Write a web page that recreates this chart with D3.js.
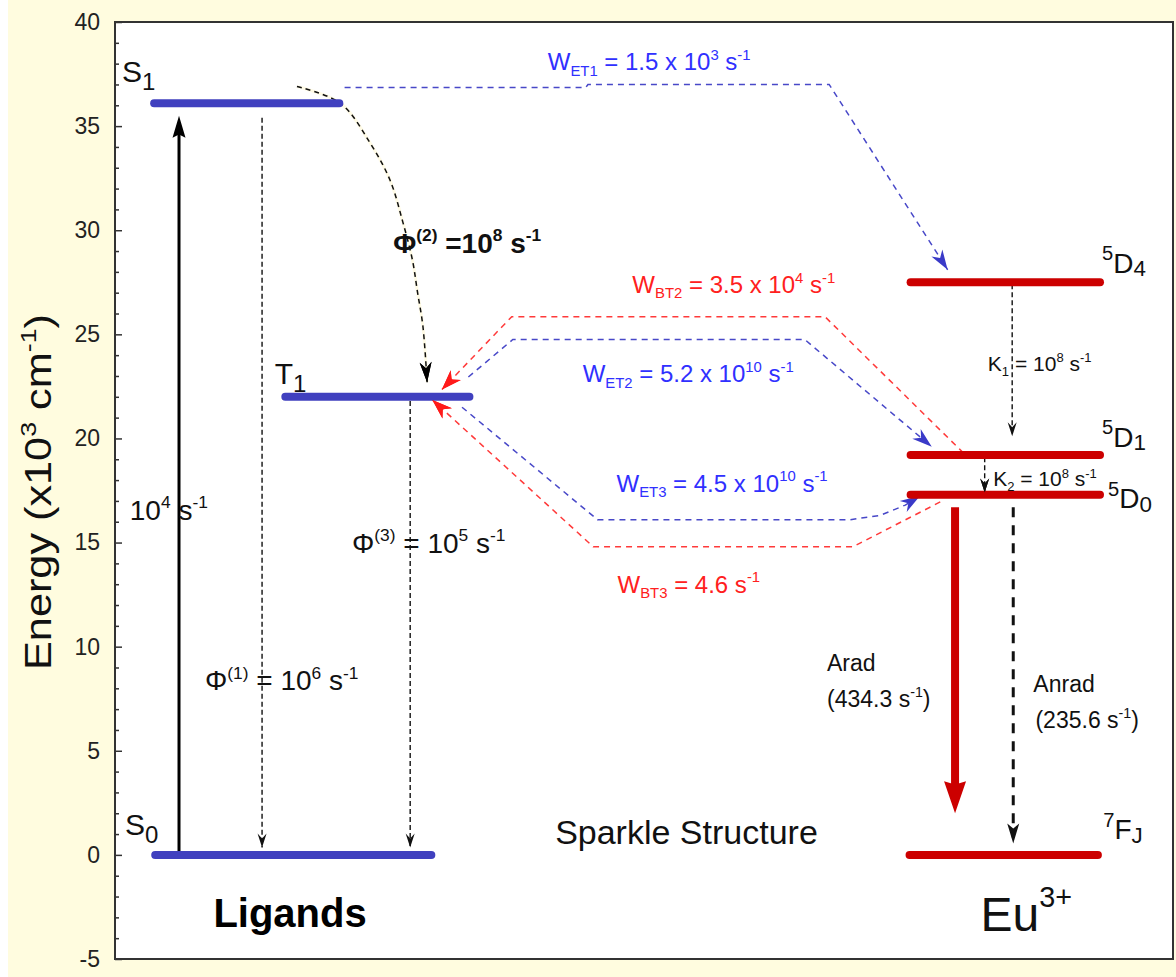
<!DOCTYPE html>
<html>
<head>
<meta charset="utf-8">
<script src="https://cdn.jsdelivr.net/npm/d3@7"></script>
<style>
  html, body { margin: 0; padding: 0; background: #ffffff; }
  svg { display: block; }
  text { font-family: "Liberation Sans", Arial, sans-serif; white-space: pre; }
</style>
</head>
<body>
<svg id="chart" width="1176" height="977"></svg>
<script>
// Energy levels (x10^3 cm^-1) of the ligand states and the Eu3+ ion
const levelNames    = ["S1", "T1", "S0", "5D4", "5D1", "5D0", "7FJ"];
const levelLabels   = ["S_{1}", "T_{1}", "S_{0}", "^{5}D_{4}", "^{5}D_{1}", "^{5}D_{0}", "^{7}F_{J}"];
const levelEnergies = [36.1, 22.0, 0.0, 27.5, 19.2, 17.3, 0.0];
const levelGroups   = ["ligand", "ligand", "ligand", "eu", "eu", "eu", "eu"];

// Axis ticks
const yMajorTicks = [-5, 0, 5, 10, 15, 20, 25, 30, 35, 40];
const yMinorTicks = [-4, -3, -2, -1, 1, 2, 3, 4, 6, 7, 8, 9, 11, 12, 13, 14, 16, 17, 18, 19,
                     21, 22, 23, 24, 26, 27, 28, 29, 31, 32, 33, 34, 36, 37, 38, 39];

// Rate labels for each transfer / decay process
const rateTexts = [
  "W_{ET1} = 1.5 x 10^{3} s^{-1}",
  "W_{BT2} = 3.5 x 10^{4} s^{-1}",
  "W_{ET2} = 5.2 x 10^{10} s^{-1}",
  "W_{ET3} = 4.5 x 10^{10} s^{-1}",
  "W_{BT3} = 4.6 s^{-1}",
  "Φ^{(2)} =10^{8} s^{-1}",
  "Φ^{(3)} = 10^{5} s^{-1}",
  "Φ^{(1)} = 10^{6} s^{-1}",
  "10^{4} s^{-1}",
  "K_{1} = 10^{8} s^{-1}",
  "K_{2} = 10^{8} s^{-1}",
  "Arad", "(434.3 s^{-1})",
  "Anrad", "(235.6 s^{-1})"
];
const groupTitles = ["Ligands", "Sparkle Structure", "Eu^{3+}"];
const yTitle = "Energy (x10^{3} cm^{-1})";

// ---------------------------------------------------------------------------
const W = 1176, H = 977;
const plot = { left: 115, top: 22, right: 1173, bottom: 959 };

const svg = d3.select("#chart");
const x = d3.scaleLinear().domain([0, 100]).range([plot.left, plot.right]);
const y = d3.scaleLinear().domain([-5, 40]).range([plot.bottom, plot.top]);

// page background
svg.append("rect").attr("width", W).attr("height", H).attr("fill", "#ffffff");
svg.append("rect").attr("x", 8).attr("width", W - 8).attr("height", H).attr("fill", "#fffcdf");
svg.append("rect")
  .attr("x", plot.left).attr("y", plot.top)
  .attr("width", plot.right - plot.left).attr("height", plot.bottom - plot.top)
  .attr("fill", "#ffffff");

// text with ^{} superscripts and _{} subscripts
function rich(g, str, o) {
  const size = o.size || 24;
  const supScale = o.supScale || 0.62, supShift = o.supShift || 0.42;
  const subScale = o.subScale || 0.62, subShift = o.subShift || 0.24;
  const parts = str.split(/(\^\{[^}]*\}|_\{[^}]*\})/).filter(s => s.length);
  const t = g.append("text")
    .attr("x", o.x).attr("y", o.y)
    .attr("font-size", size)
    .attr("font-weight", o.weight || "normal")
    .attr("fill", o.fill || "#111")
    .attr("text-anchor", o.anchor || "start");
  if (o.transform) t.attr("transform", o.transform);
  if (o.textLength) t.attr("textLength", o.textLength).attr("lengthAdjust", "spacingAndGlyphs");
  let cur = 0;
  parts.forEach(p => {
    let target = 0, fs = size, txt = p;
    if (p.startsWith("^{")) { target = -size * supShift; fs = size * supScale; txt = p.slice(2, -1); }
    else if (p.startsWith("_{")) { target = size * subShift; fs = size * subScale; txt = p.slice(2, -1); }
    t.append("tspan").attr("dy", target - cur).attr("font-size", fs).text(txt);
    cur = target;
  });
  return t;
}

// ---------------- axis ----------------
const axisG = svg.append("g").attr("transform", `translate(${plot.left},0)`);
axisG.call(d3.axisLeft(y).tickValues(yMinorTicks).tickSize(-4).tickFormat(""));
axisG.call(g => g.select(".domain").remove());
const majorG = svg.append("g").attr("transform", `translate(${plot.left},0)`);
majorG.call(d3.axisLeft(y).tickValues(yMajorTicks).tickSizeInner(-7).tickSizeOuter(0)
  .tickPadding(15).tickFormat(d => String(d)));
majorG.select(".domain").remove();
[axisG, majorG].forEach(g => g.selectAll("line").attr("stroke", "#333").attr("stroke-width", 1.5));
majorG.selectAll("text")
  .attr("font-size", 23).attr("fill", "#222")
  .attr("font-family", "'Liberation Sans', Arial, sans-serif");

rich(svg, yTitle, { x: 0, y: 0, size: 36, anchor: "middle", fill: "#111", textLength: 356,
  transform: `translate(51,492) rotate(-90)` });

// ---------------- energy level bars ----------------
// horizontal extent of each level, in x-scale units
const levelSpan = {
  S1: [3.7, 21.2], T1: [16.1, 33.5], S0: [3.8, 29.9],
  "5D4": [75.2, 93.1], "5D1": [75.2, 93.1], "5D0": [75.2, 93.1], "7FJ": [75.1, 92.9]
};
const levelColor = { ligand: "#4040bf", eu: "#cc0000" };

const levels = levelNames.map((n, i) => ({
  name: n, label: levelLabels[i], E: levelEnergies[i], group: levelGroups[i]
}));

// ---------------- transitions ----------------
const arrowStyle = {
  solid: { stroke: "#000", width: 3, dash: null, len: 22, wid: 13, notch: 0.15, fill: "#000", trim: 14 },
  thin:  { stroke: "#111", width: 1.4, dash: "5,3", len: 14, wid: 9, notch: 0.35, fill: "#111", trim: 0 },
  curve: { stroke: "#111", width: 1.5, dash: "5,4", len: 20, wid: 12, notch: 0.3, fill: "#000", trim: 0 },
  blue:  { stroke: "#4848c8", width: 1.5, dash: "6,5", len: 20, wid: 13, notch: 0.3, fill: "#3a3ac8", trim: 0 },
  red:   { stroke: "#ff3a3a", width: 1.5, dash: "6,5", len: 20, wid: 14, notch: 0.3, fill: "#ff1a1a", trim: 0 },
  arad:  { stroke: "#cc0000", width: 8, dash: null, len: 32, wid: 22, notch: 0.1, fill: "#cc0000", trim: 22 },
  anrad: { stroke: "#111", width: 3, dash: "10,8", len: 20, wid: 12, notch: 0.25, fill: "#111", trim: 6 }
};

// each path: points in (x-units, energy); the last point is the arrow tip
const transitions = [
  { kind: "solid", pts: [[6.05, 0.0], [6.05, 35.5]] },
  { kind: "thin",  pts: [[13.9, 35.4], [13.9, 0.35]] },
  { kind: "thin",  pts: [[27.9, 21.8], [27.9, 0.35]] },
  { kind: "curve", smooth: true,
    pts: [[17.2, 36.9], [21.3, 36.1], [24.1, 34.2], [26.0, 32.4], [27.2, 30.4],
          [28.1, 28.6], [28.6, 27.0], [29.1, 25.4], [29.5, 22.7]] },
  { kind: "blue", pts: [[21.7, 36.85], [44.5, 36.85], [44.7, 37.0], [67.5, 37.0], [78.7, 28.1]] },
  { kind: "red",  pts: [[80.2, 19.3], [67.1, 25.85], [37.5, 25.85], [30.9, 22.35]] },
  { kind: "blue", pts: [[33.4, 22.95], [37.6, 24.75], [65.2, 24.75], [77.2, 19.6]] },
  { kind: "blue", pts: [[32.8, 21.5], [45.6, 16.1], [69.5, 16.1], [72.3, 16.3], [74.7, 16.8], [76.1, 17.25]] },
  { kind: "red",  pts: [[78.0, 16.95], [69.75, 14.8], [45.2, 14.8], [30.0, 21.85]] },
  { kind: "thin", pts: [[84.8, 27.4], [84.8, 20.1]] },
  { kind: "thin", pts: [[82.2, 19.1], [82.2, 17.4]] },
  { kind: "arad",  pts: [[79.4, 16.7], [79.4, 2.0]] },
  { kind: "anrad", pts: [[84.9, 16.7], [84.9, 0.55]] }
];

function head(g, tip, from, s) {
  const a = Math.atan2(tip[1] - from[1], tip[0] - from[0]) * 180 / Math.PI;
  g.append("path")
    .attr("d", `M0,0 L${-s.len},${-s.wid / 2} L${-s.len * (1 - s.notch)},0 L${-s.len},${s.wid / 2} Z`)
    .attr("transform", `translate(${tip[0]},${tip[1]}) rotate(${a})`)
    .attr("fill", s.fill);
}

const arrowsG = svg.append("g");
transitions.forEach(tr => {
  const s = arrowStyle[tr.kind];
  const px = tr.pts.map(p => [x(p[0]), y(p[1])]);
  const tip = px[px.length - 1], prev = px[px.length - 2];
  const d = Math.hypot(tip[0] - prev[0], tip[1] - prev[1]);
  const linePts = px.slice();
  if (s.trim) {
    linePts[linePts.length - 1] = [tip[0] - (tip[0] - prev[0]) / d * s.trim,
                                   tip[1] - (tip[1] - prev[1]) / d * s.trim];
  }
  const gen = d3.line().curve(tr.smooth ? d3.curveCatmullRom : d3.curveLinear);
  if (tr.kind === "curve") {
    arrowsG.append("path").attr("d", gen(linePts)).attr("fill", "none")
      .attr("stroke", "#fffbe6").attr("stroke-width", 3);
  }
  const path = arrowsG.append("path").attr("d", gen(linePts))
    .attr("fill", "none").attr("stroke", s.stroke).attr("stroke-width", s.width);
  if (s.dash) path.attr("stroke-dasharray", s.dash);
  head(arrowsG, tip, prev, s);
});

// level bars drawn on top of the transfer lines
const barsG = svg.append("g");
barsG.selectAll("line").data(levels).join("line")
  .attr("x1", d => x(levelSpan[d.name][0]))
  .attr("x2", d => x(levelSpan[d.name][1]))
  .attr("y1", d => y(d.E)).attr("y2", d => y(d.E))
  .attr("stroke", d => levelColor[d.group])
  .attr("stroke-width", 8).attr("stroke-linecap", "round");

// arrow tips that sit over the bars are drawn again above them
const tipsG = svg.append("g");
transitions.forEach((tr, i) => {
  if ([3, 5, 8, 10].includes(i)) {
    const s = arrowStyle[tr.kind];
    const px = tr.pts.map(p => [x(p[0]), y(p[1])]);
    head(tipsG, px[px.length - 1], px[px.length - 2], s);
  }
});

// ---------------- labels ----------------
const labelG = svg.append("g");
const levelLabelPos = {
  S1: [0.66, 37.1], T1: [15.1, 22.6], S0: [0.95, 0.95],
  "5D4": [93.3, 27.95], "5D1": [93.3, 19.6], "5D0": [93.85, 16.65], "7FJ": [93.4, 0.75]
};
levels.forEach(l => {
  const p = levelLabelPos[l.name];
  const ligand = l.group === "ligand";
  rich(labelG, l.label, {
    x: x(p[0]), y: y(p[1]), size: ligand ? 30 : 28, fill: "#111",
    subScale: 0.8, subShift: ligand ? 0.27 : 0.12, supScale: 0.72, supShift: 0.45
  });
});

// rate label placement (x-units, energy) and style
const rateLayout = [
  { at: [40.9, 37.7], size: 24, fill: "#3030ff" },
  { at: [48.9, 27.0], size: 24, fill: "#ff2020" },
  { at: [44.2, 22.7], size: 24, fill: "#3030ff" },
  { at: [47.4, 17.45], size: 24, fill: "#3030ff" },
  { at: [47.5, 12.6], size: 24, fill: "#ff2020" },
  { at: [26.3, 28.9], size: 28, fill: "#111", weight: "bold" },
  { at: [22.4, 14.5], size: 28, fill: "#111" },
  { at: [8.5, 7.9], size: 28, fill: "#111" },
  { at: [1.4, 16.1], size: 28, fill: "#111" },
  { at: [82.5, 23.25], size: 21, fill: "#111" },
  { at: [83.0, 17.7], size: 21, fill: "#111" },
  { at: [67.3, 8.85], size: 23, fill: "#111" },
  { at: [67.3, 7.1], size: 23, fill: "#111" },
  { at: [86.8, 7.8], size: 23, fill: "#111" },
  { at: [87.0, 6.1], size: 23, fill: "#111" }
];
rateTexts.forEach((t, i) => {
  const L = rateLayout[i];
  rich(labelG, t, { x: x(L.at[0]), y: y(L.at[1]), size: L.size, fill: L.fill, weight: L.weight });
});

// group titles
rich(labelG, groupTitles[0], { x: x(9.3), y: y(-3.45), size: 40, weight: "bold", fill: "#000" });
rich(labelG, groupTitles[1], { x: x(41.6), y: y(0.5), size: 34, fill: "#111" });
rich(labelG, groupTitles[2], { x: x(81.8), y: y(-3.65), size: 48, fill: "#111", supScale: 0.6, supShift: 0.5 });

// frame
svg.append("rect")
  .attr("x", plot.left).attr("y", plot.top)
  .attr("width", plot.right - plot.left).attr("height", plot.bottom - plot.top)
  .attr("fill", "none").attr("stroke", "#333").attr("stroke-width", 2);
</script>
</body>
</html>
